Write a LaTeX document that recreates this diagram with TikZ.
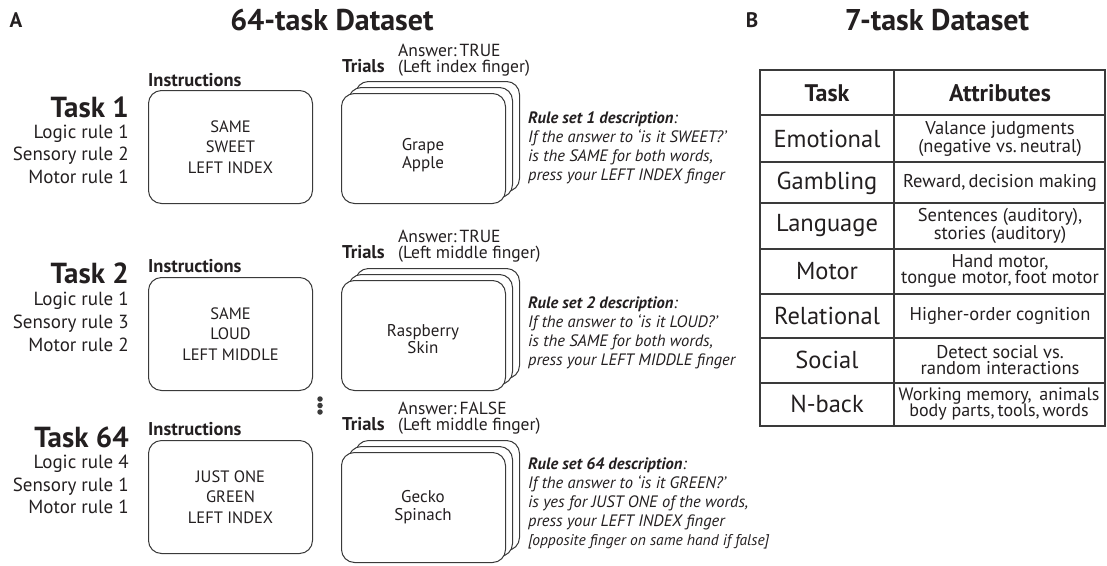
\documentclass[tikz,border=0pt]{standalone}
\usepackage{fontspec}
\setmainfont{PT Sans}
\definecolor{ink}{HTML}{231F20}
\definecolor{edge}{HTML}{3A3A3A}
\begin{document}
\begin{tikzpicture}[x=1pt,y=-1pt,
  every node/.style={inner sep=0pt, text=ink},
  panel/.style={font=\bfseries\fontsize{21}{24}\selectfont},
  title/.style={font=\bfseries\fontsize{30}{34}\selectfont},
  tasklab/.style={font=\bfseries\fontsize{29}{32}\selectfont, anchor=base east},
  rulelab/.style={font=\fontsize{19}{22}\selectfont, anchor=base east},
  smallbold/.style={font=\bfseries\fontsize{18.5}{20}\selectfont, anchor=base west},
  answer/.style={font=\fontsize{17.5}{20}\selectfont, anchor=base west},
  instrbox/.style={draw=edge, line width=1pt, rounded corners=13pt, minimum width=164pt, minimum height=113pt, fill=white, align=center, font=\fontsize{16.5}{20.5}\selectfont},
  cardbox/.style={draw=edge, line width=1pt, rounded corners=13pt, minimum width=164pt, minimum height=110pt, fill=white},
  cardtxt/.style={align=center, font=\fontsize{17}{17.5}\selectfont},
  ruletxt/.style={font=\itshape\fontsize{16.5}{19}\selectfont, anchor=base west},
  dot/.style={circle, fill=edge, minimum size=5.5pt},
  tabhead/.style={font=\bfseries\fontsize{24}{26}\selectfont},
  tabtask/.style={font=\fontsize{24.5}{26}\selectfont},
  tabattr/.style={font=\fontsize{18.5}{16.5}\selectfont, align=center},
  tabline/.style={draw=edge, line width=2pt}
]
\useasboundingbox (0,0) rectangle (1107,565);

% Panel titles
\node[panel] (pA) at (16,20) {A};
\node[title] (tA) at (332,20) {64-task Dataset};
\node[panel] (pB) at (752,20) {B};
\node[title] (tB) at (937,20) {7-task Dataset};

% ---------- Task 1 ----------
\node[tasklab] (t1) at (129,117) {Task 1};
\node[rulelab] (r1a) at (129,138) {Logic rule 1};
\node[rulelab] (r1b) at (129,160.5) {Sensory rule 2};
\node[rulelab] (r1c) at (129,183) {Motor rule 1};
\node[smallbold] (i1l) at (148,86) {Instructions};
\node[instrbox, anchor=north west] (i1) at (148,90) {SAME\\SWEET\\LEFT INDEX};
\node[cardbox, anchor=north west] (c1c) at (355,81) {};
\node[cardbox, anchor=north west] (c1b) at (348,87) {};
\node[cardbox, anchor=north west] (c1a) at (341,93) {};
\node[cardtxt] (c1t) at (423,155) {Grape\\Apple};
\node[smallbold] (tr1) at (342,72) {Trials};
\node[answer] (a1a) at (398,56.5) {Answer:\,TRUE};
\node[answer] (a1b) at (398,72) {(Left index finger)};
\node[ruletxt] (d1a) at (528,123) {\textbf{Rule set 1 description}:};
\node[ruletxt] (d1b) at (528,142) {If the answer to ‘is it SWEET?’};
\node[ruletxt] (d1c) at (528,161) {is the SAME for both words,};
\node[ruletxt] (d1d) at (528,180) {press your LEFT INDEX finger};

% ---------- Task 2 ----------
\node[tasklab] (t2) at (129,283) {Task 2};
\node[rulelab] (r2a) at (129,305) {Logic rule 1};
\node[rulelab] (r2b) at (129,328) {Sensory rule 3};
\node[rulelab] (r2c) at (129,351) {Motor rule 2};
\node[smallbold] (i2l) at (148,272) {Instructions};
\node[instrbox, anchor=north west] (i2) at (148,277) {SAME\\LOUD\\LEFT MIDDLE};
\node[cardbox, anchor=north west] (c2c) at (355,268) {};
\node[cardbox, anchor=north west] (c2b) at (348,274) {};
\node[cardbox, anchor=north west] (c2a) at (341,280) {};
\node[cardtxt] (c2t) at (423,339) {Raspberry\\Skin};
\node[smallbold] (tr2) at (342,258) {Trials};
\node[answer] (a2a) at (398,242.5) {Answer:\,TRUE};
\node[answer] (a2b) at (398,258) {(Left middle finger)};
\node[ruletxt] (d2a) at (528,308) {\textbf{Rule set 2 description}:};
\node[ruletxt] (d2b) at (528,327) {If the answer to ‘is it LOUD?’};
\node[ruletxt] (d2c) at (528,346) {is the SAME for both words,};
\node[ruletxt] (d2d) at (528,365) {press your LEFT MIDDLE finger};

% dots
\node[dot] (dt1) at (320,399) {};
\node[dot] (dt2) at (320,405.5) {};
\node[dot] (dt3) at (320,412) {};

% ---------- Task 64 ----------
\node[tasklab] (t3) at (129,447) {Task 64};
\node[rulelab] (r3a) at (129,468) {Logic rule 4};
\node[rulelab] (r3b) at (129,491) {Sensory rule 1};
\node[rulelab] (r3c) at (129,513.5) {Motor rule 1};
\node[smallbold] (i3l) at (148,435) {Instructions};
\node[instrbox, anchor=north west] (i3) at (148,440) {JUST ONE\\GREEN\\LEFT INDEX};
\node[cardbox, anchor=north west] (c3c) at (355,440) {};
\node[cardbox, anchor=north west] (c3b) at (348,446) {};
\node[cardbox, anchor=north west] (c3a) at (341,452) {};
\node[cardtxt] (c3t) at (423,507) {Gecko\\Spinach};
\node[smallbold] (tr3) at (342,430) {Trials};
\node[answer] (a3a) at (398,414.5) {Answer:\,FALSE};
\node[answer] (a3b) at (398,430) {(Left middle finger)};
\node[ruletxt] (d3a) at (528,469) {\textbf{Rule set 64 description}:};
\node[ruletxt] (d3b) at (528,488) {If the answer to ‘is it GREEN?’};
\node[ruletxt] (d3c) at (528,507) {is yes for JUST ONE of the words,};
\node[ruletxt] (d3d) at (528,526) {press your LEFT INDEX finger};
\node[ruletxt, font=\itshape\fontsize{15.5}{19}\selectfont] (d3e) at (528,545) {{[}opposite finger on same hand\ if false{]}};

% ---------- Table ----------
\coordinate (tl) at (760,70);
\coordinate (br) at (1105,426);
\draw[tabline] (tl) rectangle (br);
\draw[tabline] (894,70) -- (894,426);
\foreach \yy in {115,162,203,249,294,338,383}{
  \draw[tabline] (760,\yy) -- (1105,\yy);
}
\node[tabhead] (hT) at (827,93) {Task};
\node[tabhead] (hA) at (1000,93) {Attributes};
\node[tabtask] (k1) at (827,139) {Emotional};
\node[tabattr] (v1) at (1000,139) {Valance judgments\\(negative vs.\,neutral)};
\node[tabtask] (k2) at (827,183) {Gambling};
\node[tabattr] (v2) at (1000,183) {Reward,\,decision making};
\node[tabtask] (k3) at (827,226) {Language};
\node[tabattr] (v3) at (1000,226) {Sentences (auditory),\\stories (auditory)};
\node[tabtask] (k4) at (827,271) {Motor};
\node[tabattr] (v4) at (1000,271) {Hand motor,\\tongue motor,\,foot motor};
\node[tabtask] (k5) at (827,316) {Relational};
\node[tabattr] (v5) at (1000,316) {Higher-order cognition};
\node[tabtask] (k6) at (827,360) {Social};
\node[tabattr] (v6) at (1000,360) {Detect social vs.\\random interactions};
\node[tabtask] (k7) at (827,404) {N-back};
\node[tabattr, font=\fontsize{18}{16.5}\selectfont] (v7) at (999,404) {Working memory,\ \,animals\\body parts,\,tools,\,words};
\end{tikzpicture}
\end{document}
